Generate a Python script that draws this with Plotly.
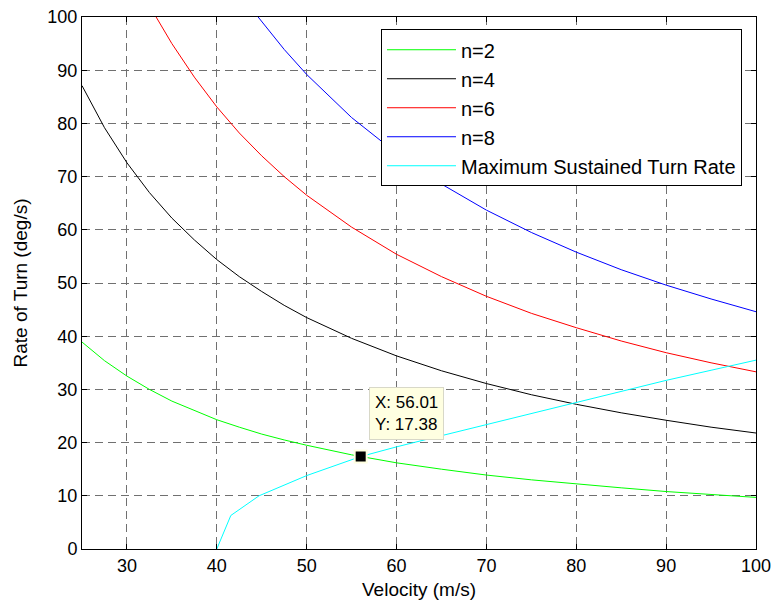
import plotly.graph_objects as go

# Velocity samples (m/s) and rate of turn (deg/s) for each load factor
v_n2 = [25, 27.5, 30, 32.5, 35, 37.5, 40, 42.5, 45, 47.5, 50, 55, 60, 65, 70, 75, 80, 85, 90, 95, 100]
r_n2 = [38.9, 35.4, 32.5, 30.0, 27.8, 26.0, 24.3, 22.9, 21.6, 20.5, 19.5, 17.7, 16.2, 15.0, 13.9, 13.0, 12.2, 11.5, 10.8, 10.2, 9.7]

v_n4 = [25, 27.5, 30, 32.5, 35, 37.5, 40, 42.5, 45, 47.5, 50, 55, 60, 65, 70, 75, 80, 85, 90, 95, 100]
r_n4 = [87.1, 79.2, 72.6, 67.0, 62.2, 58.1, 54.4, 51.2, 48.4, 45.8, 43.5, 39.6, 36.3, 33.5, 31.1, 29.0, 27.2, 25.6, 24.2, 22.9, 21.8]

v_n6 = [33.25, 35, 37.5, 40, 42.5, 45, 47.5, 50, 55, 60, 65, 70, 75, 80, 85, 90, 95, 100]
r_n6 = [100.0, 95.0, 88.7, 83.1, 78.2, 73.9, 70.0, 66.5, 60.5, 55.4, 51.2, 47.5, 44.3, 41.6, 39.1, 36.9, 35.0, 33.3]

v_n8 = [44.6, 47.5, 50, 55, 60, 65, 70, 75, 80, 85, 90, 95, 100]
r_n8 = [100.0, 93.9, 89.2, 81.1, 74.4, 68.6, 63.7, 59.5, 55.8, 52.5, 49.6, 47.0, 44.6]

v_max = [40, 41.56, 44.7, 50, 56.01, 60, 65, 70, 75, 80, 85, 90, 95, 100]
r_max = [0, 6.3, 10.0, 13.8, 17.38, 19.2, 21.3, 23.4, 25.5, 27.6, 29.7, 31.7, 33.6, 35.5]

# Data cursor location
tip_x = 56.01
tip_y = 17.38

x_ticks = [30, 40, 50, 60, 70, 80, 90, 100]
y_ticks = [0, 10, 20, 30, 40, 50, 60, 70, 80, 90, 100]

font = "Liberation Sans, Arial, sans-serif"

fig = go.Figure()
series = [
    (v_n2, r_n2, "n=2", "#00ff00"),
    (v_n4, r_n4, "n=4", "#000000"),
    (v_n6, r_n6, "n=6", "#ff0000"),
    (v_n8, r_n8, "n=8", "#0000ff"),
    (v_max, r_max, "Maximum Sustained Turn Rate", "#00ffff"),
]
for xs, ys, name, col in series:
    fig.add_trace(go.Scatter(x=xs, y=ys, mode="lines", name=name,
                             line=dict(color=col, width=1)))

fig.add_trace(go.Scatter(x=[tip_x], y=[tip_y], mode="markers", showlegend=False,
                         marker=dict(symbol="square", size=12, color="black",
                                     line=dict(color="#ffffe1", width=2))))

fig.add_annotation(x=tip_x, y=tip_y, xref="x", yref="y", showarrow=False,
                   text=f"X: {tip_x:.2f}<br>Y: {tip_y:.2f}", align="left",
                   xanchor="left", yanchor="bottom", xshift=8, yshift=17,
                   bgcolor="#ffffe1", bordercolor="#d8d8c8", borderwidth=1, borderpad=5,
                   font=dict(family=font, size=17, color="black"))

axis_common = dict(showline=True, linecolor="black", linewidth=1, mirror="ticks",
                   ticks="inside", ticklen=5, tickcolor="black", automargin=False,
                   showgrid=True, gridcolor="#707070", griddash="8px,5px", gridwidth=1,
                   zeroline=False, tickfont=dict(family=font, size=18, color="black"),
                   title_font=dict(family=font, size=19, color="black"))

fig.update_xaxes(range=[25, 100], tickvals=x_ticks, title_text="Velocity (m/s)",
                 title_standoff=8, **axis_common)
fig.update_yaxes(range=[0, 100], tickvals=y_ticks, title_text="Rate of Turn (deg/s)",
                 title_standoff=14, **axis_common)

fig.update_layout(
    width=774, height=607,
    margin=dict(l=82, r=18, t=17, b=58),
    paper_bgcolor="white", plot_bgcolor="white",
    font=dict(family=font, size=18, color="black"),
    legend=dict(x=0.4436, y=0.977, xanchor="left", yanchor="top",
                bgcolor="white", bordercolor="black", borderwidth=1,
                font=dict(family=font, size=20), itemwidth=69,
                tracegroupgap=0),
)

fig.write_html("out.html")
